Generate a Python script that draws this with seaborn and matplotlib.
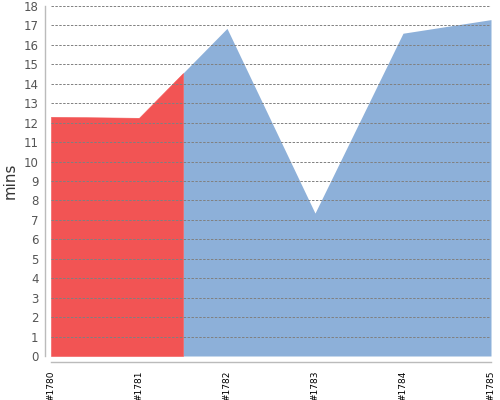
import numpy as np
import matplotlib
matplotlib.use('Agg')
import matplotlib.pyplot as plt
import seaborn as sns

builds = ['#1780', '#1781', '#1782', '#1783', '#1784', '#1785']
mins = [12.3, 12.25, 16.85, 7.35, 16.6, 17.3]
split_at = 1.5  # red part stops half way between #1781 and #1782

red = '#f25454'
blue = '#8db0d9'

sns.set_style('white')
plt.rcParams['font.family'] = ['DejaVu Sans']

fig = plt.figure(figsize=(5, 4), dpi=100)
ax = fig.add_axes([0.102, 0.11, 0.88, 0.875])

pos = np.arange(len(builds), dtype=float)
vals = np.array(mins, dtype=float)
sns.lineplot(x=pos, y=vals, ax=ax, linewidth=0)

# spines first, moving them resets the tick settings
sns.despine(ax=ax)
for side in ['left', 'bottom']:
    ax.spines[side].set_position(('outward', 4))
    ax.spines[side].set_color('#bbbbbb')
    ax.spines[side].set_linewidth(1)

# split the area into the red and blue parts
split_val = np.interp(split_at, pos, vals)
x_red = np.append(pos[pos < split_at], split_at)
y_red = np.append(vals[pos < split_at], split_val)
x_blue = np.insert(pos[pos > split_at], 0, split_at)
y_blue = np.insert(vals[pos > split_at], 0, split_val)
ax.fill_between(x_blue, 0, y_blue, color=blue, linewidth=0, zorder=1)
# thin edge in the same colour hides the seam between the two parts
ax.fill_between(x_red, 0, y_red, facecolor=red, edgecolor=red, linewidth=0.4, zorder=1)

ax.set_xlim(0, len(builds) - 1)
ax.set_ylim(0, 18)
ax.set_yticks(range(0, 19))
ax.set_xticks(pos)
ax.set_xticklabels(builds, rotation=90, fontsize=6.5, color='black')
ax.tick_params(axis='y', labelsize=8.5, colors='#555555', length=0, pad=5)
ax.tick_params(axis='x', length=3, color='#bbbbbb', width=1, pad=3.5)

for y in range(0, 19):
    ax.axhline(y, color='#808080', linewidth=0.7, linestyle=(0, (2.5, 1.5)), zorder=2)

ax.set_ylabel('mins', fontsize=10.8, color='#333333', labelpad=4)

fig.savefig('out.png', dpi=100)
